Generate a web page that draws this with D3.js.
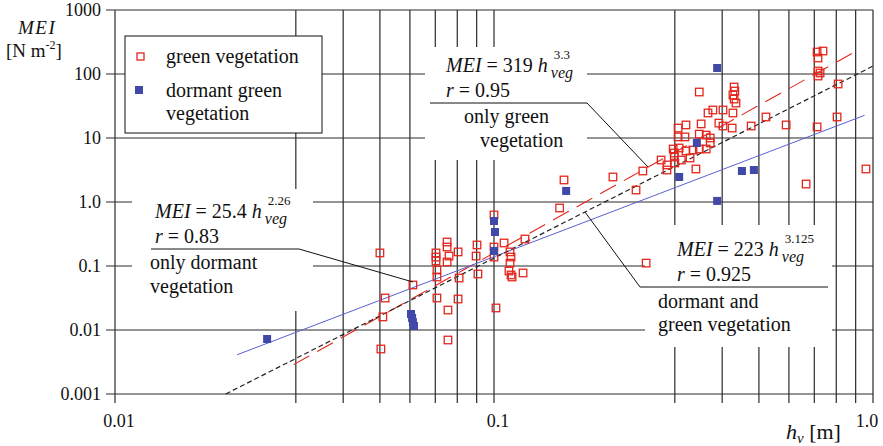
<!DOCTYPE html>
<html>
<head>
<meta charset="utf-8">
<script src="https://cdn.jsdelivr.net/npm/d3@7"></script>
<style>
  body { margin: 0; background: #fff; }
  svg { display: block; }
  svg text, svg tspan { font-family: "Liberation Serif", Tinos, serif !important; }
</style>
</head>
<body>
<svg id="chart" width="883" height="446"></svg>
<script>
// measured points, [h_veg (m), MEI (N m-2)]
const greenVeg = [
  [0.050, 0.160], [0.0516, 0.0316], [0.0509, 0.016], [0.0503, 0.00505], [0.0611, 0.0505],
  [0.0703, 0.160], [0.0703, 0.138], [0.0703, 0.120], [0.0707, 0.0866], [0.0707, 0.0673],
  [0.0707, 0.0316], [0.0752, 0.237], [0.0752, 0.198], [0.0761, 0.143], [0.0752, 0.1155],
  [0.0756, 0.0205], [0.0756, 0.00698], [0.0804, 0.166], [0.0809, 0.0649], [0.0804, 0.0305],
  [0.0902, 0.213], [0.0897, 0.143], [0.0907, 0.075], [0.100, 0.627], [0.100, 0.198],
  [0.100, 0.138], [0.1012, 0.0221], [0.1063, 0.229], [0.1102, 0.166], [0.1109, 0.138],
  [0.1102, 0.111], [0.1095, 0.0835], [0.1109, 0.0723], [0.1116, 0.0673], [0.1193, 0.0778],
  [0.1207, 0.264], [0.149, 0.806], [0.153, 2.21], [0.206, 2.46], [0.237, 1.54],
  [0.252, 0.111], [0.247, 3.05], [0.276, 4.53], [0.286, 3.79], [0.286, 3.16],
  [0.297, 6.73], [0.299, 5.83], [0.299, 5.05], [0.300, 4.07], [0.308, 6.98],
  [0.321, 6.26], [0.335, 6.49], [0.348, 6.73], [0.363, 6.73], [0.329, 4.87],
  [0.312, 4.53], [0.341, 3.28], [0.306, 14.3], [0.321, 16.0], [0.352, 16.6],
  [0.306, 10.4], [0.319, 10.4], [0.348, 11.5], [0.363, 11.1], [0.372, 10.0],
  [0.372, 8.36], [0.367, 24.6], [0.378, 27.4], [0.402, 27.4], [0.392, 17.1],
  [0.402, 15.4], [0.425, 14.3], [0.427, 24.6], [0.348, 52.3], [0.430, 62.6],
  [0.432, 54.2], [0.427, 46.9], [0.430, 40.6], [0.435, 35.2], [0.477, 15.4],
  [0.522, 21.3], [0.590, 16.0], [0.712, 14.9], [0.804, 21.3], [0.809, 69.8],
  [0.712, 220.6], [0.738, 228.7], [0.716, 177.8], [0.716, 111.4], [0.725, 103.7],
  [0.716, 93.0], [0.958, 3.28], [0.666, 1.91]
];
const dormantVeg = [
  [0.0252, 0.00723], [0.0604, 0.0178], [0.0608, 0.0154], [0.0611, 0.0133], [0.0615, 0.01155],
  [0.100, 0.505], [0.1006, 0.340], [0.100, 0.172], [0.155, 1.49], [0.343, 8.36],
  [0.308, 2.46], [0.388, 124.1], [0.451, 3.05], [0.485, 3.16], [0.388, 1.04]
];
// fitted power laws MEI = a * h^b, as drawn, with their h range
const fitNames = ['green', 'dormant', 'all'];
const fitA = [319, 25.4, 133];
const fitB = [3.3, 2.26, 3.0];
const fitFrom = [0.0296, 0.021, 0.0196];
const fitTo = [0.896, 0.95, 1.0];

const xGrid = [0.01, 0.03, 0.04, 0.05, 0.06, 0.07, 0.08, 0.09, 0.1,
               0.3, 0.4, 0.5, 0.6, 0.7, 0.8, 0.9, 1];
const xTicks = [0.01, 0.1, 1];
const xTickLabels = ['0.01', '0.1', '1.0'];
const yTicks = [0.001, 0.01, 0.1, 1, 10, 100, 1000];
const yTickLabels = ['0.001', '0.01', '0.1', '1.0', '10', '100', '1000'];

const RED = '#e3261d';
const BLUE = '#4048a8';
const BLUE_LINE = '#5a5fd0';
const FONT = 'Liberation Serif';

const svg = d3.select('#chart');
const x = d3.scaleLog().domain([0.01, 1]).range([115, 873]);
const y = d3.scaleLog().domain([0.001, 1000]).range([394, 10]);

// grid, with ticks poking out left and below
const grid = svg.append('g').attr('stroke', '#2a2a2a').attr('stroke-width', 1.2);
grid.selectAll('line.v').data(xGrid).join('line').attr('class', 'v')
  .attr('x1', d => x(d)).attr('x2', d => x(d))
  .attr('y1', y(1000)).attr('y2', y(0.001) + 9);
grid.selectAll('line.h').data(yTicks).join('line').attr('class', 'h')
  .attr('y1', d => y(d)).attr('y2', d => y(d))
  .attr('x1', x(0.01) - 9).attr('x2', x(1));

// tick labels
svg.append('g').attr('font-size', 18).attr('text-anchor', 'end')
  .selectAll('text').data(yTicks).join('text')
  .attr('x', 101).attr('y', d => y(d) + 6)
  .text((d, i) => yTickLabels[i]);
svg.append('g').attr('font-size', 18).attr('text-anchor', 'middle')
  .selectAll('text').data(xTicks).join('text')
  .attr('x', (d, i) => x(d) + (i === 2 ? -6 : 4)).attr('y', 427)
  .text((d, i) => xTickLabels[i]);

// axis titles
const yt = svg.append('text').attr('font-size', 19);
yt.append('tspan').attr('x', 18).attr('y', 34).attr('font-style', 'italic')
  .attr('letter-spacing', 1.5).text('MEI');
const yt2 = svg.append('text').attr('font-size', 19).attr('x', 6).attr('y', 57);
yt2.append('tspan').text('[N m');
yt2.append('tspan').attr('font-size', 12).attr('dy', -8).text('-2');
yt2.append('tspan').attr('dy', 8).text(']');

const xt = svg.append('text').attr('font-size', 22).attr('x', 786).attr('y', 439);
xt.append('tspan').attr('font-style', 'italic').text('h');
xt.append('tspan').attr('font-style', 'italic').attr('font-size', 15).attr('dy', 4).text('v');
xt.append('tspan').attr('dy', -4).text(' [m]');

// white panels behind the annotations
const panels = [[425, 47, 162, 113], [132, 189, 181, 122], [645, 225, 187, 122]];
svg.append('g').selectAll('rect').data(panels).join('rect')
  .attr('x', d => d[0]).attr('y', d => d[1]).attr('width', d => d[2]).attr('height', d => d[3])
  .attr('fill', '#fff');

// fit lines
const fitStyle = {
  green: { stroke: RED, dash: '18,9', width: 1.1 },
  dormant: { stroke: BLUE_LINE, dash: null, width: 1 },
  all: { stroke: '#222', dash: '5,3', width: 1.2 }
};
const lineGen = d3.line().x(d => x(d[0])).y(d => y(d[1]));
fitNames.forEach((name, i) => {
  const pts = d3.range(0, 41).map(k => {
    const h = Math.exp(Math.log(fitFrom[i]) + k / 40 * (Math.log(fitTo[i]) - Math.log(fitFrom[i])));
    return [h, fitA[i] * Math.pow(h, fitB[i])];
  });
  svg.append('path').datum(pts).attr('d', lineGen)
    .attr('fill', 'none').attr('stroke', fitStyle[name].stroke)
    .attr('stroke-width', fitStyle[name].width)
    .attr('stroke-dasharray', fitStyle[name].dash);
});

// points
const S = 7.5;
svg.append('g').selectAll('rect').data(greenVeg).join('rect')
  .attr('x', d => x(d[0]) - S / 2).attr('y', d => y(d[1]) - S / 2)
  .attr('width', S).attr('height', S)
  .attr('fill', 'none').attr('stroke', RED).attr('stroke-width', 1.3);
svg.append('g').selectAll('rect').data(dormantVeg).join('rect')
  .attr('x', d => x(d[0]) - 4).attr('y', d => y(d[1]) - 4)
  .attr('width', 8).attr('height', 8).attr('fill', BLUE);

// annotations
const ann = svg.append('g').attr('font-size', 20);
function equation(x0, y0, coef, exp) {
  const t = ann.append('text').attr('x', x0).attr('y', y0).attr('font-family', FONT);
  t.append('tspan').attr('font-style', 'italic').text('MEI');
  t.append('tspan').text(` = ${coef} `);
  t.append('tspan').attr('font-style', 'italic').text('h');
  const w = t.node().getComputedTextLength();
  ann.append('text').attr('x', x0 + w + 6).attr('y', y0 - 13).attr('font-size', 13).text(exp);
  ann.append('text').attr('x', x0 + w + 3).attr('y', y0 + 6).attr('font-size', 16)
    .attr('font-style', 'italic').text('veg');
}
function rText(x0, y0, val) {
  const t = ann.append('text').attr('x', x0).attr('y', y0);
  t.append('tspan').attr('font-style', 'italic').text('r');
  t.append('tspan').text(` = ${val}`);
}
function line(pts) {
  ann.append('path').attr('d', d3.line()(pts))
    .attr('fill', 'none').attr('stroke', '#111').attr('stroke-width', 1);
}

equation(446, 72, '319', '3.3');
rText(446, 97, '0.95');
line([[430, 103], [587, 103], [648, 167]]);
ann.append('text').attr('x', 464).attr('y', 123).text('only green');
ann.append('text').attr('x', 480).attr('y', 147).text('vegetation');

equation(155, 218, '25.4', '2.26');
rText(155, 243, '0.83');
line([[151, 249], [299, 249], [413, 282]]);
ann.append('text').attr('x', 150).attr('y', 269).text('only dormant');
ann.append('text').attr('x', 150).attr('y', 293).text('vegetation');

equation(677, 256, '223', '3.125');
rText(677, 281, '0.925');
line([[585, 212], [640, 287], [828, 287]]);
ann.append('text').attr('x', 658).attr('y', 308).text('dormant and');
ann.append('text').attr('x', 658).attr('y', 331).text('green vegetation');

// legend
const leg = svg.append('g');
leg.append('rect').attr('x', 125).attr('y', 36).attr('width', 197).attr('height', 97)
  .attr('fill', '#fff').attr('stroke', '#111').attr('stroke-width', 1);
leg.append('rect').attr('x', 137).attr('y', 53).attr('width', 7).attr('height', 7)
  .attr('fill', 'none').attr('stroke', RED).attr('stroke-width', 1.3);
leg.append('rect').attr('x', 135).attr('y', 86).attr('width', 8).attr('height', 8).attr('fill', BLUE);
const lt = leg.append('g').attr('font-size', 20);
lt.append('text').attr('x', 166).attr('y', 63).text('green vegetation');
lt.append('text').attr('x', 166).attr('y', 97).text('dormant green');
lt.append('text').attr('x', 166).attr('y', 120).text('vegetation');

svg.selectAll('text').attr('font-family', FONT).style('font-family', FONT).attr('fill', '#111');
</script>
</body>
</html>
